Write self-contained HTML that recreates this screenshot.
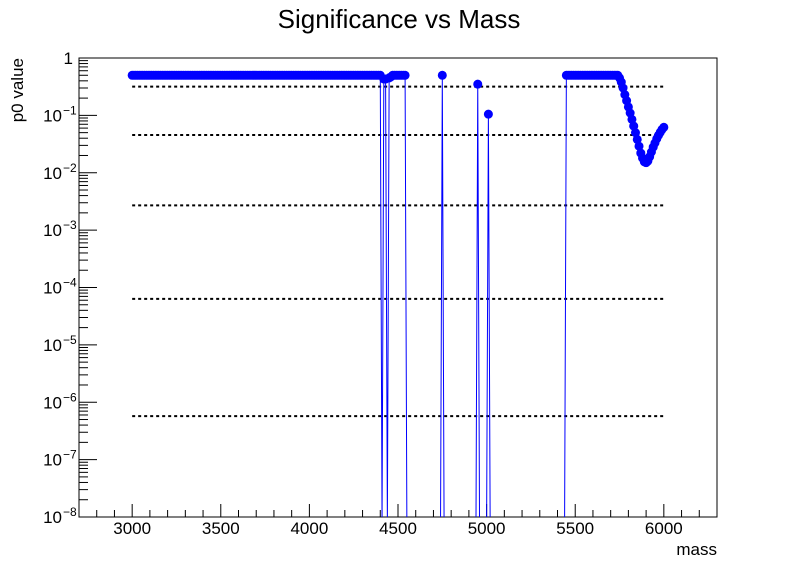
<!DOCTYPE html>
<html><head><meta charset="utf-8"><style>
html,body{margin:0;background:#fff;overflow:hidden;width:798px;height:575px;}
svg{display:block;font-family:"Liberation Sans",sans-serif;}
</style></head><body>
<svg id="c" width="798" height="575"></svg>
<script>
const massStart = 3000, massStep = 10;
const pValues = [
0.5,0.5,0.5,0.5,0.5,0.5,0.5,0.5,0.5,0.5,
0.5,0.5,0.5,0.5,0.5,0.5,0.5,0.5,0.5,0.5,
0.5,0.5,0.5,0.5,0.5,0.5,0.5,0.5,0.5,0.5,
0.5,0.5,0.5,0.5,0.5,0.5,0.5,0.5,0.5,0.5,
0.5,0.5,0.5,0.5,0.5,0.5,0.5,0.5,0.5,0.5,
0.5,0.5,0.5,0.5,0.5,0.5,0.5,0.5,0.5,0.5,
0.5,0.5,0.5,0.5,0.5,0.5,0.5,0.5,0.5,0.5,
0.5,0.5,0.5,0.5,0.5,0.5,0.5,0.5,0.5,0.5,
0.5,0.5,0.5,0.5,0.5,0.5,0.5,0.5,0.5,0.5,
0.5,0.5,0.5,0.5,0.5,0.5,0.5,0.5,0.5,0.5,
0.5,0.5,0.5,0.5,0.5,0.5,0.5,0.5,0.5,0.5,
0.5,0.5,0.5,0.5,0.5,0.5,0.5,0.5,0.5,0.5,
0.5,0.5,0.5,0.5,0.5,0.5,0.5,0.5,0.5,0.5,
0.5,0.5,0.5,0.5,0.5,0.5,0.5,0.5,0.5,0.5,
0.5,0,0.43,0.43,0,0.45,0.47,0.5,0.5,0.5,
0.5,0.5,0.5,0.5,0.5,0,0,0,0,0,
0,0,0,0,0,0,0,0,0,0,
0,0,0,0,0,0.5,0,0,0,0,
0,0,0,0,0,0,0,0,0,0,
0,0,0,0,0,0.35,0,0,0,0,
0,0.105,0,0,0,0,0,0,0,0,
0,0,0,0,0,0,0,0,0,0,
0,0,0,0,0,0,0,0,0,0,
0,0,0,0,0,0,0,0,0,0,
0,0,0,0,0,0.5,0.5,0.5,0.5,0.5,
0.5,0.5,0.5,0.5,0.5,0.5,0.5,0.5,0.5,0.5,
0.5,0.5,0.5,0.5,0.5,0.5,0.5,0.5,0.5,0.5,
0.5,0.5,0.5,0.5,0.5,0.45,0.38,0.30,0.23,0.18,
0.14,0.11,0.085,0.065,0.05,0.038,0.029,0.022,0.018,0.0155,
0.015,0.016,0.019,0.023,0.028,0.033,0.039,0.045,0.051,0.057,
0.062
];
const sigmaLevels = [0.3173, 0.0455, 0.0027, 6.33e-5, 5.73e-7];
const xTicks = [3000,3500,4000,4500,5000,5500,6000];
const yDecades = [0,-1,-2,-3,-4,-5,-6,-7,-8];

const L=79,R=717,T=58,B=517, XMIN=2700, XMAX=6300, YMIN=-8, YMAX=0;
const X=m=>L+(m-XMIN)/(XMAX-XMIN)*(R-L);
const Y=p=>{const lg=p>0?Math.log10(p):-8.1;return T+(YMAX-lg)/(YMAX-YMIN)*(B-T);};
const svg=document.getElementById('c'), NS='http://www.w3.org/2000/svg';
function mk(t,a,parent){const e=document.createElementNS(NS,t);for(const k in a)e.setAttribute(k,a[k]);(parent||svg).appendChild(e);return e;}

let e;
e=mk('text',{x:399,y:28,'font-size':26,'text-anchor':'middle',fill:'#000'});e.textContent='Significance vs Mass';


e=mk('rect',{x:L,y:T,width:R-L,height:B-T,fill:'none',stroke:'#000','stroke-width':1});



const defs=mk('defs',{});const cp=mk('clipPath',{id:'pc'},defs);mk('rect',{x:L,y:T,width:R-L,height:B-T},cp);

for(let m=XMIN;m<=XMAX;m+=100){const maj=m%500===0;
 e=mk('line',{x1:X(m),x2:X(m),y1:B,y2:B-(maj?13:7),stroke:'#000','stroke-width':1});
 
 }
xTicks.forEach(v=>{e=mk('text',{x:X(v),y:534,'font-size':17,'text-anchor':'middle'});e.textContent=v;
 
 });
e=mk('text',{x:717,y:555,'font-size':17,'text-anchor':'end'});e.textContent='mass';



yDecades.forEach(d=>{
 e=mk('line',{x1:L,x2:L+18,y1:Y(Math.pow(10,d)),y2:Y(Math.pow(10,d)),stroke:'#000'});
 
 
 if(d<0){for(let k=2;k<=9;k++){const yy=Y(k*Math.pow(10,d));
  e=mk('line',{x1:L,x2:L+9,y1:yy,y2:yy,stroke:'#000'});
  
  }}
 const yy=Y(Math.pow(10,d));
 e=mk('text',{x:d===0?73:62,y:yy+6,'font-size':17,'text-anchor':'end'});
 
 
 if(d===0){e.textContent='1';}
 else{e.textContent='10';const s=mk('text',{x:63,y:yy-1,'font-size':12,'text-anchor':'start'});s.textContent='\u2212'+(-d);
  
  }
});
e=mk('text',{x:0,y:0,'font-size':17,'text-anchor':'end',transform:'translate(23,58) rotate(-90)'});e.textContent='p0 value';



sigmaLevels.forEach(p=>{e=mk('line',{x1:X(3000),x2:X(6000),y1:Y(p),y2:Y(p),stroke:'#000','stroke-width':2,'stroke-dasharray':'3,3'});
 
 });

const g=mk('g',{'clip-path':'url(#pc)'});


const pts=pValues.map((v,i)=>[X(massStart+i*massStep),Y(v)]);
e=mk('polyline',{points:pts.map(p=>p.join(',')).join(' '),fill:'none',stroke:'#0000ff','stroke-width':1},g);


pValues.forEach((v,i)=>{if(v<=0)return;
 e=mk('circle',{cx:X(massStart+i*massStep),cy:Y(v),r:4.5,fill:'#0000ff'},g);
 
 });
</script>
</body></html>
